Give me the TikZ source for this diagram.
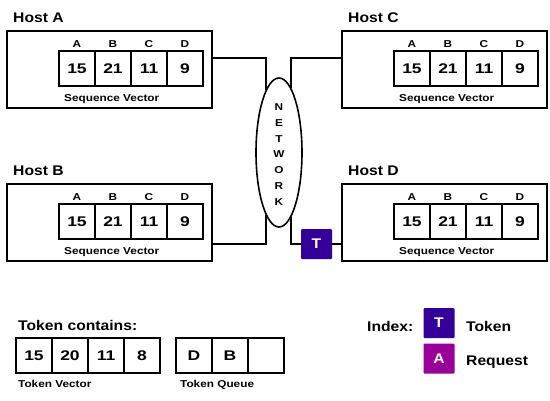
\documentclass[tikz,border=0pt]{standalone}
\usepackage{fontspec}
\setmainfont{Liberation Sans}
\newfontfamily\titlef[FakeStretch=1.12]{Liberation Sans}
\newfontfamily\smallf[FakeStretch=1.18]{Liberation Sans}
\newfontfamily\numf[FakeStretch=1.25]{Liberation Sans}
\usetikzlibrary{shapes.geometric}
\definecolor{tokcol}{HTML}{330099}
\definecolor{reqcol}{HTML}{990099}
\tikzset{
  hostframe/.style={draw, line width=1.6pt, minimum width=205pt, minimum height=77pt, inner sep=0pt},
  cell/.style={draw, line width=1.4pt, minimum width=36pt, minimum height=35pt, inner sep=0pt, font=\numf\fontsize{14}{16}\selectfont\bfseries},
  title/.style={anchor=base west, inner sep=0pt, font=\titlef\fontsize{14}{16}\selectfont\bfseries},
  small/.style={inner sep=0pt, font=\smallf\fontsize{10}{12}\selectfont\bfseries},
  smallw/.style={small, anchor=base west},
  colbox/.style={minimum width=31pt, minimum height=30pt, inner sep=0pt, text=white, font=\titlef\fontsize{14}{16}\selectfont\bfseries, rounded corners=1pt},
  link/.style={line width=1.6pt},
}
\newcommand\hostunit[4]{%
  \node[hostframe] (#1) at (#2+102.5, #3+38.5) {};
  \node[title] (#1t) at (#2+6, #3-8.3) {#4};
  \foreach \v [count=\i] in {15,21,11,9}
    \node[cell] (#1c\i) at (#2+52+18+36*\i-36, #3+37.5) {\v};
  \foreach \l [count=\i] in {A,B,C,D}
    \node[small] (#1l\i) at (#2+52+18+36*\i-36, #3+13) {\l};
  \node[smallw] (#1s) at (#2+57, #3+70.6) {Sequence Vector};
}
\begin{document}
\begin{tikzpicture}[x=1pt, y=-1pt]
\useasboundingbox[fill=white] (0,0) rectangle (550,400);
\hostunit{hostA}{7}{31}{Host A}
\hostunit{hostB}{7}{184}{Host B}
\hostunit{hostC}{342}{31}{Host C}
\hostunit{hostD}{342}{184}{Host D}
% network
\node[ellipse, draw, line width=1.6pt, minimum width=46pt, minimum height=149pt, inner sep=0pt] (net) at (279,152.5) {};
\node[small, align=center, font=\smallf\fontsize{10}{15.8}\selectfont\bfseries] (netlabel) at (279,154.5) {N\\E\\T\\W\\O\\R\\K};
\node[colbox, fill=tokcol] (tok) at (316.5,244) {T};
\coordinate (ja) at (266,58);
\coordinate (jc) at (291,58);
\coordinate (jb) at (266,244);
\coordinate (jd) at (291,244);
\draw[link] (ja -| hostA.east) -- (ja) -- (ja |- net.102);
\draw[link] (jc -| hostC.west) -- (jc) -- (jc |- net.79);
\draw[link] (jb -| hostB.east) -- (jb) -- (jb |- net.258);
\draw[link] (jd |- net.281) -- (jd) -- (tok.west);
\draw[link] (tok.east) -- (tok.east -| hostD.west);
% token contents
\node[title] (tc) at (18,330) {Token contains:};
\foreach \v [count=\i] in {15,20,11,8}
  \node[cell] (tv\i) at (16+18+36*\i-36, 355.5) {\v};
\foreach \v [count=\i] in {D,B,{}}
  \node[cell] (tq\i) at (176+18+36*\i-36, 355.5) {\v};
\node[smallw] (tvl) at (18,387.6) {Token Vector};
\node[smallw] (tql) at (180,387.6) {Token Queue};
% index
\node[title] (idx) at (367,331) {Index:};
\node[colbox, fill=tokcol] (it) at (439,323) {T};
\node[colbox, fill=reqcol] (ia) at (439,358.5) {A};
\node[title] (itl) at (466,331) {Token};
\node[title] (ial) at (466,365) {Request};
\end{tikzpicture}
\end{document}
